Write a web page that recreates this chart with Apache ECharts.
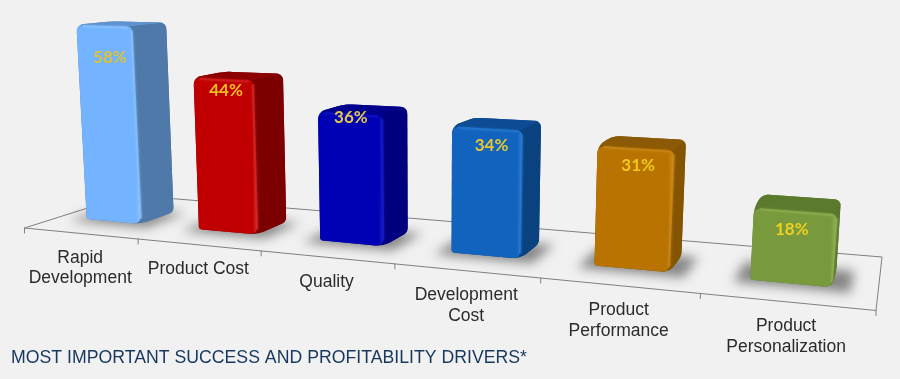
<!DOCTYPE html>
<html>
<head>
<meta charset="utf-8">
<style>html,body{margin:0;padding:0;background:#f1f1f1}#main{width:900px;height:379px}</style>
<script src="https://cdn.jsdelivr.net/npm/echarts@6/dist/echarts.min.js"></script>
</head>
<body>
<div id="main"></div>
<script>
// data
var categories = ['Rapid\nDevelopment', 'Product Cost', 'Quality', 'Development\nCost', 'Product\nPerformance', 'Product\nPersonalization'];
var values = [58, 44, 36, 34, 31, 18];
var valueLabels = ['58%', '44%', '36%', '34%', '31%', '18%'];
var chartTitle = 'MOST IMPORTANT SUCCESS AND PROFITABILITY DRIVERS*';

// front, side, top, highlight, label colour
var palette = [
    ['#74b3ff', '#4e79a8', '#5f93cf', '#8cc2ff', '#dcc23a'],
    ['#c00000', '#7c0000', '#8c0000', '#d42a2a', '#f2bd20'],
    ['#0000b4', '#00007e', '#00008c', '#1a1ac8', '#e6c84a'],
    ['#1263be', '#0a4280', '#0d4c94', '#2a7ad2', '#e6c832'],
    ['#b87300', '#855400', '#8c5a05', '#cc8a1c', '#f0c820'],
    ['#789a3c', '#5a752e', '#5c7a2e', '#8eb052', '#f0d020']
];
// where the value sits on the front face, px from the top middle
var labelNudge = [[6, 32], [3, 12], [1, 4], [5, 17], [3, 18], [-3, 19]];

// floor corners on screen: front left, front right, back right, back left
var floor = [[24.5, 228], [876, 310.5], [882, 257], [128.6, 195]];
var vanish = [430, 6700];   // vertical edges meet down here
var lift = -0.000082;       // perspective per grid px of height
var barFront = 0.32, barBack = 0.66, barHalf = 0.245, barShift = -0.002;

function solveFloor(q) {
    var x0 = q[0][0], y0 = q[0][1], x1 = q[1][0], y1 = q[1][1], x2 = q[2][0], y2 = q[2][1], x3 = q[3][0], y3 = q[3][1];
    var dx1 = x1 - x2, dx2 = x3 - x2, sx = x0 - x1 + x2 - x3;
    var dy1 = y1 - y2, dy2 = y3 - y2, sy = y0 - y1 + y2 - y3;
    var den = dx1 * dy2 - dx2 * dy1;
    var g = (sx * dy2 - dx2 * sy) / den, h = (dx1 * sy - sx * dy1) / den;
    return {a: x1 - x0 + g * x1, b: x3 - x0 + h * x3, c: x0, d: y1 - y0 + g * y1, e: y3 - y0 + h * y3, f: y0, g: g, h: h};
}
var H = solveFloor(floor);

// u: 0..1 along the axis, z: 0..1 into the floor, up: height in grid px
function project(u, z, up) {
    var k = lift * (up || 0);
    var w = H.g * u + H.h * z + 1 + k;
    return [(H.a * u + H.b * z + H.c + k * vanish[0]) / w, (H.d * u + H.e * z + H.f + k * vanish[1]) / w];
}

// polygon with soft corners, r is px per corner, one value per vertex
function rounded(pts, rs) {
    var out = [], n = pts.length;
    for (var i = 0; i < n; i++) {
        var p = pts[i], a = pts[(i + n - 1) % n], b = pts[(i + 1) % n], r = rs[i];
        if (!r) { out.push(p); continue; }
        var la = Math.hypot(a[0] - p[0], a[1] - p[1]), lb = Math.hypot(b[0] - p[0], b[1] - p[1]);
        var s = [p[0] + (a[0] - p[0]) * r / la, p[1] + (a[1] - p[1]) * r / la];
        var t = [p[0] + (b[0] - p[0]) * r / lb, p[1] + (b[1] - p[1]) * r / lb];
        for (var j = 0; j <= 6; j++) {
            var m = j / 6, c = 1 - m;
            out.push([c * c * s[0] + 2 * c * m * p[0] + m * m * t[0], c * c * s[1] + 2 * c * m * p[1] + m * m * t[1]]);
        }
    }
    return out;
}

function poly(points, style) {
    return {type: 'polygon', shape: {points: points}, style: style};
}
function edge(a, b, color, width, opacity) {
    return {type: 'line', shape: {x1: a[0], y1: a[1], x2: b[0], y2: b[1]},
        style: {stroke: color, lineWidth: width, lineCap: 'round', opacity: opacity === undefined ? 1 : opacity, shadowColor: color, shadowBlur: opacity === undefined ? 0 : 3}};
}
function sideways(c0, c1, stop) {
    return {type: 'linear', x: 0, y: 0, x2: 1, y2: 0, colorStops: [
        {offset: 0, color: c0}, {offset: stop, color: c0}, {offset: 1, color: c1}
    ]};
}

function renderFloor(params, api) {
    var i = params.dataIndex;
    var gridW = params.coordSys.width;
    var band = api.size([1, 0])[0];
    var mid = api.coord([i, 0])[0];
    var left = project((mid - band / 2) / gridW, 0);
    var right = project((mid + band / 2) / gridW, 0);
    var centre = project(mid / gridW, 0);
    var kids = [];
    if (i === 0) {
        kids.push({type: 'polygon', shape: {points: floor}, style: {fill: 'none', stroke: '#808080', lineWidth: 1}});
    }
    kids.push(edge(left, [left[0], left[1] + 5], '#808080', 1));
    if (i === categories.length - 1) {
        kids.push(edge(right, [right[0], right[1] + 5], '#808080', 1));
    }
    kids.push({
        type: 'text',
        style: {
            text: categories[i], x: centre[0], y: centre[1] + 14.5,
            align: 'center', verticalAlign: 'top',
            font: '17.5px "Liberation Sans"', lineHeight: 20.5, fill: '#2b2b2b'
        }
    });
    return {type: 'group', children: kids};
}

function renderShadow(params, api) {
    var i = params.dataIndex;
    var gridW = params.coordSys.width;
    var band = api.size([1, 0])[0] / gridW;
    var mid = api.coord([i, 0])[0] / gridW + barShift;
    var l = mid - band * (barHalf + 0.09), r = mid + band * (barHalf + 0.11);
    var pts = [project(l, barFront - 0.07), project(r, barFront - 0.07), project(r, barBack), project(l, barBack)];
    var off = pts.map(function (p) { return [p[0] - 2000, p[1]]; });
    return poly(off, {fill: '#000', shadowColor: 'rgba(70,70,70,0.62)', shadowBlur: 11, shadowOffsetX: 2000, shadowOffsetY: 0});
}

function renderBar(params, api) {
    var i = params.dataIndex;
    var gridW = params.coordSys.width;
    var band = api.size([1, 0])[0] / gridW;
    var base = api.coord([i, 0]);
    var tip = api.coord([i, api.value(1)]);
    var up = base[1] - tip[1];
    var mid = base[0] / gridW + barShift;
    var l = mid - band * barHalf, r = mid + band * barHalf;
    var c = palette[i];

    var flb = project(l, barFront), frb = project(r, barFront), brb = project(r, barBack);
    var flt = project(l, barFront, up), frt = project(r, barFront, up), brt = project(r, barBack, up), blt = project(l, barBack, up);

    var label = project(mid, barFront, up);
    var kids = [
        poly(rounded([flt, blt, brt, brb, frb, flb], [8, 7, 7, 5, 8, 3]), {fill: c[1]}),
        poly(rounded([flt, frt, brt, blt], [8, 0, 7, 7]), {fill: c[2]}),
        poly(rounded([frt, brt, brb, frb], [0, 7, 5, 8]), {fill: c[1]}),
        poly(rounded([flt, frt, frb, flb], [8, 6, 8, 3]), {fill: sideways(c[0], c[3], 0.93)}),
        edge([flt[0] + 7, flt[1] + 1.5], [frt[0] - 5, frt[1] + 1.5], c[3], 2, 0.55),
        edge([frt[0], frt[1] + 5], [frb[0], frb[1] - 6], c[3], 2, 0.7),
        {
            type: 'text',
            style: {
                text: valueLabels[i], x: label[0] + labelNudge[i][0], y: label[1] + labelNudge[i][1],
                align: 'center', verticalAlign: 'middle',
                font: 'bold 17px Lato', fill: c[4]
            }
        }
    ];
    return {type: 'group', children: kids};
}

var myChart = echarts.init(document.getElementById('main'), null, {renderer: 'canvas'});
var rows = values.map(function (v, i) { return [i, v]; });
var option = {
    backgroundColor: '#f1f1f1',
    animation: false,
    title: {
        text: chartTitle, left: 6, top: 344,
        textStyle: {color: '#17375e', fontSize: 17.7, fontWeight: 'normal', fontFamily: 'Liberation Sans'}
    },
    grid: {left: 0, right: 0, top: 0, bottom: 0},
    xAxis: {type: 'category', data: categories, show: false},
    yAxis: {type: 'value', min: 0, max: 60, show: false},
    series: [
        {type: 'custom', renderItem: renderFloor, data: rows, z: 1, silent: true},
        {type: 'custom', renderItem: renderShadow, data: rows, z: 2, silent: true},
        {type: 'custom', renderItem: renderBar, data: rows, z: 3, silent: true}
    ]
};
myChart.setOption(option);
window.onresize = function () {
    myChart.resize();
};
</script>
</body>
</html>
